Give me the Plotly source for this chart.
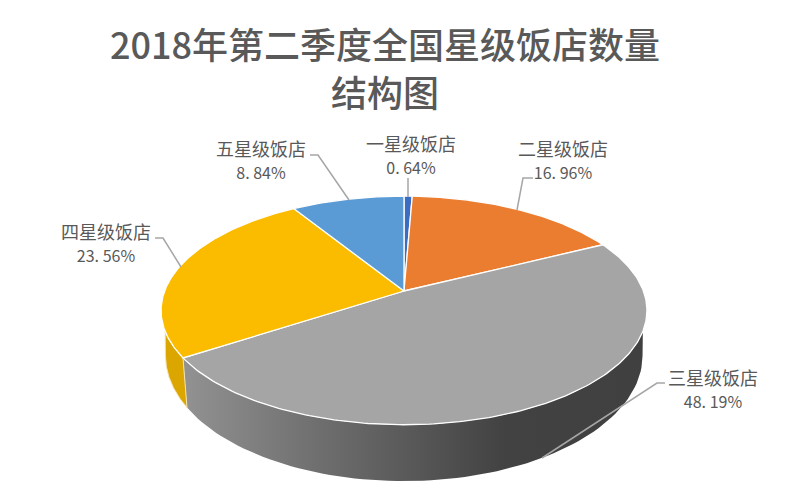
import numpy as np
import plotly.graph_objects as go

# labels printed on the chart (they only add up to 98.19)
categories = ['一星级饭店', '二星级饭店', '三星级饭店', '四星级饭店', '五星级饭店']
label_pcts = ['0. 64%', '16. 96%', '48. 19%', '23. 56%', '8. 84%']
# slice sizes as drawn, the four-star slice is visibly bigger than its label
shares = [0.64, 16.96, 48.19, 25.37, 8.84]
colors = ['#3B6CC4', '#EB7D31', '#A5A5A5', '#FBBC00', '#5B9BD5']
title_lines = ['2018年第二季度全国星级饭店数量', '结构图']

# where the labels and leader lines sit, in page pixels
label_x = [411, 563, 713, 106, 261]
label_y = [154, 159, 388, 242, 159]
leader_x = [[408, 408], [533, 523, 517], [665, 657, 542], [155, 163, 181], [310, 318, 349]]
leader_y = [[178, 197], [178, 178, 210], [383, 383, 458], [238, 238, 267], [155, 155, 200]]

# the page keeps an 8px body margin, so the plot starts at 8,8
PAGE_W, PAGE_H, OFFSET = 795, 494, 8

# tilted disc: the near edge is drawn bigger than the far edge
CX, CY = 404, 291
A, B, K = 239.4, 111, 0.17


def top_ring(deg):
    t = np.radians(deg)
    w = 1 + K * np.cos(t)
    return CX + A * np.sin(t) / w, CY - B * np.cos(t) / w


def low_ring(deg):
    t = np.radians(deg)
    w = 1 + K * np.cos(t)
    return CX + 0.982 * A * np.sin(t) / w, 334 - 1.1 * B * np.cos(t) / w


def side(d0, d1, d0_low, d1_low):
    x1, y1 = top_ring(np.linspace(d0, d1, 80))
    x2, y2 = low_ring(np.linspace(d1_low, d0_low, 80))
    return np.r_[x1, x2, x1[0]], np.r_[y1, y2, y1[0]]


edges = np.cumsum([0] + shares) / 100 * 360
seam = edges[3]

fig = go.Figure()

# rim of the disc, only the three-star and four-star slices show from the front
x, y = side(110, seam, 100, seam)
fig.add_trace(go.Scatter(x=x, y=y, mode='lines', fill='toself',
                         line=dict(color='rgba(0,0,0,0)', width=0),
                         fillgradient=dict(type='horizontal',
                                           colorscale=[[0, '#929292'], [0.3, '#6e6e6e'],
                                                       [0.7, '#424242'], [1, '#404040']])))
x, y = side(seam, 250, seam, 260)
fig.add_trace(go.Scatter(x=x, y=y, mode='lines', fill='toself', fillcolor='#DCA600',
                         line=dict(color='#F3E3B0', width=1)))

for i, c in enumerate(colors):
    x, y = top_ring(np.linspace(edges[i], edges[i + 1], 200))
    fig.add_trace(go.Scatter(x=np.r_[CX, x, CX], y=np.r_[CY, y, CY], mode='lines',
                             fill='toself', fillcolor=c, line=dict(color='white', width=1.3)))

for lx, ly in zip(leader_x, leader_y):
    fig.add_trace(go.Scatter(x=lx, y=ly, mode='lines', line=dict(color='#A6A6A6', width=1.5)))

for i, name in enumerate(categories):
    text = name + '<br><span style="font-size:16px">' + label_pcts[i] + '</span>'
    fig.add_annotation(x=label_x[i], y=label_y[i], text=text,
                       showarrow=False, font=dict(size=18, color='#595959'))

# two title lines placed apart so the gap matches
for line, line_y in zip(title_lines, [43, 91]):
    fig.add_annotation(x=385, y=line_y, text=line, showarrow=False,
                       font=dict(size=36, color='#595959', weight=500))

fig.update_layout(
    width=PAGE_W - OFFSET, height=PAGE_H - OFFSET, margin=dict(l=0, r=0, t=0, b=0),
    paper_bgcolor='white', plot_bgcolor='white', showlegend=False,
    font=dict(family='Noto Sans CJK SC'), hovermode=False,
    xaxis=dict(range=[OFFSET, PAGE_W], visible=False, fixedrange=True),
    yaxis=dict(range=[PAGE_H, OFFSET], visible=False, fixedrange=True),
)

fig.write_html('out.html')
